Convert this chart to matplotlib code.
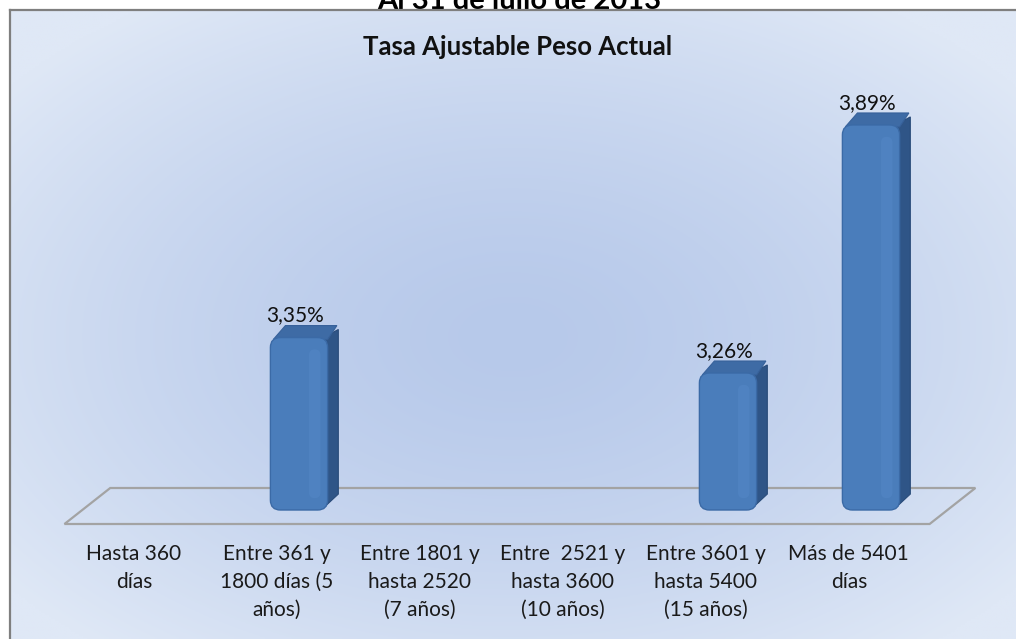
import numpy as np
import matplotlib
matplotlib.use("Agg")
import matplotlib.pyplot as plt
from matplotlib.patches import FancyBboxPatch, Polygon
from matplotlib.colors import to_rgb

# ---------------- data ----------------
categories = [
    "Hasta 360\ndías",
    "Entre 361 y\n1800 días (5\naños)",
    "Entre 1801 y\nhasta 2520\n(7 años)",
    "Entre  2521 y\nhasta 3600\n(10 años)",
    "Entre 3601 y\nhasta 5400\n(15 años)",
    "Más de 5401\ndías",
]
values = [np.nan, 3.35, np.nan, np.nan, 3.26, 3.89]
value_labels = ["", "3,35%", "", "", "3,26%", "3,89%"]
chart_title = "Tasa Ajustable Peso Actual"
page_title = "Al 31 de julio de 2013"

# ---------------- layout ----------------
W, H = 1016, 639
FONT = ["Lato", "DejaVu Sans"]
fig = plt.figure(figsize=(W / 100, H / 100), dpi=100)
fig.patch.set_facecolor("white")

# cut-off page title above chart frame
fig.text(519 / W, 1 - 9 / H, page_title, ha="center", va="baseline",
         fontsize=21, fontweight="bold", family=FONT, color="black", zorder=-1)

# background chart area with radial gradient
bg = fig.add_axes([10 / W, 0, 1 - 10 / W, 1 - 10 / H])
ny, nx = 300, 500
yy, xx = np.mgrid[0:1:ny * 1j, 0:1:nx * 1j]
r = np.sqrt(((xx - 0.5) / 0.64) ** 2 + ((yy - 0.52) / 0.64) ** 2)
r = np.clip(r, 0, 1) ** 1.5
c0 = np.array(to_rgb("#b7c9ea"))
c1 = np.array(to_rgb("#dfe8f6"))
img = c0[None, None, :] * (1 - r[..., None]) + c1[None, None, :] * r[..., None]
bg.imshow(img, extent=[0, 1, 0, 1], aspect="auto", origin="upper")
bg.set_xlim(0, 1); bg.set_ylim(0, 1)
bg.set_xticks([]); bg.set_yticks([])
for s in ["bottom", "right"]:
    bg.spines[s].set_visible(False)
for s in ["top", "left"]:
    bg.spines[s].set_color("#7f7f7f")
    bg.spines[s].set_linewidth(1.6)

# main data axes (full figure, transparent)
ax = fig.add_axes([0, 0, 1, 1])
ax.set_facecolor("none")
ax.axis("off")
XPX0, XPX_STEP = 156, 143          # pixel of category 0, pixels per category
YPX_REF, YV_REF, YPX_PER = 373, 3.26, 393.7
ax.set_xlim(-XPX0 / XPX_STEP, (W - XPX0) / XPX_STEP)
ax.set_ylim(YV_REF - (H - YPX_REF) / YPX_PER, YV_REF + YPX_REF / YPX_PER)

def ypx(p):
    return YV_REF - (p - YPX_REF) / YPX_PER

base = ypx(510)
back_y, front_y = ypx(488), ypx(524)
shift = -0.32
floor = Polygon([(-0.32 + shift, front_y), (5.73 + shift, front_y),
                 (5.73, back_y), (-0.32, back_y)],
                closed=True, fill=False, edgecolor="#a3a3a3", lw=1.6, zorder=1)
ax.add_patch(floor)

x = np.arange(len(categories))
w = 0.40
dx, dy = 0.075, 12 / YPX_PER
asp = XPX_STEP / YPX_PER
for xi, v, lab in zip(x, values, value_labels):
    if np.isnan(v):
        continue
    x0, x1 = xi - w / 2, xi + w / 2
    # side face
    side = Polygon([(x1 - 0.03, base + 0.005), (x1 + dx, base + dy + 0.01),
                    (x1 + dx, v + dy - 0.01), (x1 - 0.03, v)],
                   closed=True, facecolor="#2f5587", edgecolor="#2a4c7a", lw=0.8, zorder=2)
    ax.add_patch(side)
    # top face
    top = Polygon([(x0 + 0.02, v - 0.005), (x0 + dx + 0.03, v + dy),
                   (x1 + dx - 0.01, v + dy), (x1, v - 0.005)],
                  closed=True, facecolor="#3e6ba5", edgecolor="#37619a", lw=0.8, zorder=2)
    ax.add_patch(top)
    # front face (rounded)
    front = FancyBboxPatch((x0, base), w, v - base,
                           boxstyle="round,pad=0,rounding_size=0.07",
                           mutation_aspect=asp,
                           facecolor="#4a7dbb", edgecolor="#3b6aa6", lw=1.0, zorder=3)
    ax.add_patch(front)
    # soft highlight strip
    ax.add_patch(FancyBboxPatch((x1 - 0.13, base + 0.03), 0.08, v - base - 0.06,
                                boxstyle="round,pad=0,rounding_size=0.04",
                                mutation_aspect=asp,
                                facecolor="#5b8fcf", edgecolor="none", alpha=0.3, zorder=4))
    ax.text(xi - 0.03, v + 16 / YPX_PER, lab, ha="center", va="baseline",
            fontsize=15, family=FONT, color="#111111", zorder=5)

for xi, lab in zip(x, categories):
    ax.text(xi - 0.155, ypx(544), lab, ha="center", va="top", multialignment="center",
            fontsize=15, family=FONT, color="#1a1a1a", linespacing=1.5, zorder=5)

fig.text(518 / W, 1 - 55 / H, chart_title, ha="center", va="baseline",
         fontsize=18.5, fontweight="bold", family=FONT, color="#111111")

fig.savefig("out.png", dpi=100)
